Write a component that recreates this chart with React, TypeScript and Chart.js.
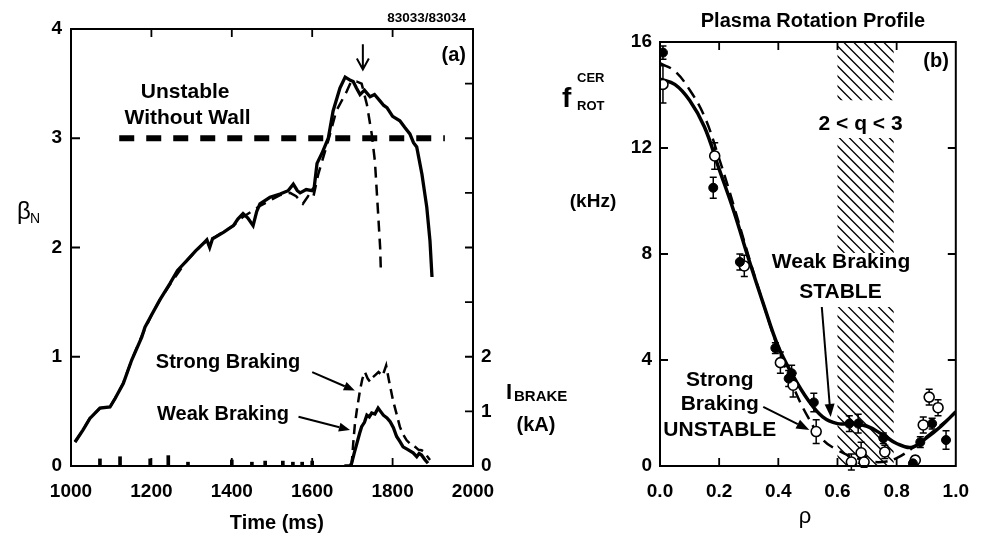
import React, { useEffect, useRef } from 'react';
import { Chart, registerables } from 'chart.js';

Chart.register(...registerables);

const FONT = '"Liberation Sans", Arial, Helvetica, sans-serif';

// ---------------- Panel (a) data ----------------
const timeTicks = [1000, 1200, 1400, 1600, 1800, 2000];
const betaTicks = [0, 1, 2, 3, 4];
const brakeTickLabels = [0, 1, 2];
const brakeInnerTicks = [1, 2, 3, 4, 5, 6, 7];

const weakTime = [1010, 1030, 1047, 1072, 1097, 1110, 1130, 1151, 1176, 1184, 1200, 1221, 1246, 1265, 1288, 1310, 1330, 1338, 1345, 1352, 1380, 1404, 1415, 1428, 1440, 1453, 1462, 1470, 1495, 1520, 1540, 1553, 1563, 1570, 1585, 1600, 1605, 1612, 1624, 1640, 1652, 1669, 1682, 1695, 1702, 1710, 1719, 1730, 1744, 1755, 1769, 1778, 1786, 1800, 1818, 1830, 1843, 1852, 1860, 1873, 1885, 1893, 1898];
const weakBeta = [0.22, 0.33, 0.435, 0.53, 0.54, 0.62, 0.755, 0.97, 1.18, 1.27, 1.38, 1.52, 1.67, 1.79, 1.88, 1.97, 2.04, 2.07, 2.0, 2.08, 2.14, 2.2, 2.26, 2.31, 2.27, 2.2, 2.33, 2.4, 2.46, 2.49, 2.52, 2.58, 2.52, 2.5, 2.53, 2.52, 2.55, 2.77, 2.86, 3.0, 3.25, 3.46, 3.56, 3.53, 3.52, 3.46, 3.4, 3.44, 3.38, 3.4, 3.34, 3.3, 3.28, 3.2, 3.16, 3.1, 3.04, 2.96, 2.92, 2.67, 2.37, 2.06, 1.73];

const strongTime = [1010, 1030, 1047, 1072, 1097, 1110, 1130, 1151, 1176, 1200, 1221, 1246, 1288, 1330, 1360, 1404, 1428, 1470, 1520, 1545, 1560, 1577, 1590, 1602, 1615, 1640, 1660, 1686, 1697, 1710, 1723, 1736, 1748, 1756, 1764, 1769, 1771];
const strongBeta = [0.22, 0.33, 0.44, 0.53, 0.54, 0.62, 0.76, 0.97, 1.19, 1.38, 1.52, 1.66, 1.88, 2.04, 2.1, 2.2, 2.28, 2.38, 2.48, 2.5, 2.47, 2.4, 2.47, 2.45, 2.67, 2.98, 3.25, 3.43, 3.52, 3.52, 3.5, 3.31, 3.04, 2.79, 2.31, 2.0, 1.76];

const wallLimitTime = [1120, 1930];
const wallLimitBeta = [3, 3];

const weakBrakeTime = [1680, 1694, 1698, 1705, 1711, 1718, 1723, 1730, 1736, 1742, 1748, 1756, 1764, 1770, 1777, 1786, 1794, 1802, 1810, 1818, 1826, 1838, 1851, 1860, 1866, 1872, 1880, 1888];
const weakBrakeKA = [0, 0, 0.05, 0.25, 0.41, 0.6, 0.72, 0.8, 0.93, 0.9, 0.97, 0.95, 1.06, 1.0, 0.93, 0.88, 0.81, 0.7, 0.54, 0.45, 0.35, 0.3, 0.24, 0.17, 0.23, 0.2, 0.12, 0.05];

const strongBrakeTime = [1698, 1702, 1706, 1711, 1719, 1725, 1731, 1738, 1744, 1750, 1756, 1765, 1775, 1784, 1790, 1801, 1810, 1818, 1826, 1835, 1845, 1856, 1864, 1872, 1880, 1886, 1893];
const strongBrakeKA = [0, 0.41, 0.75, 1.02, 1.39, 1.6, 1.72, 1.6, 1.54, 1.62, 1.66, 1.72, 1.65, 1.84, 1.6, 1.2, 0.95, 0.72, 0.58, 0.47, 0.4, 0.35, 0.3, 0.29, 0.25, 0.18, 0.11];

const spikeTime = [1072, 1122, 1197, 1242, 1291, 1400, 1450, 1483, 1527, 1552, 1575, 1600];
const spikeKA = [0.13, 0.17, 0.13, 0.19, 0.07, 0.11, 0.07, 0.09, 0.09, 0.07, 0.07, 0.09];

// ---------------- Panel (b) data ----------------
const rhoTicks = [0, 0.2, 0.4, 0.6, 0.8, 1.0];
const fTicks = [0, 4, 8, 12, 16];
const qRegion = [0.6, 0.79];
const hatchBands = [[13.8, 16], [8.04, 12.38], [0, 6.0]];

const fitRho = [0, 0.05, 0.1, 0.15, 0.2, 0.25, 0.3, 0.35, 0.4, 0.45, 0.5, 0.55, 0.6, 0.65, 0.7, 0.75, 0.8, 0.85, 0.9, 0.95, 1.0];
const weakFitF = [14.6, 14.4, 13.8, 12.8, 11.2, 9.6, 7.8, 6.1, 4.5, 3.4, 2.5, 1.85, 1.6, 1.6, 1.5, 1.2, 0.85, 0.7, 1.05, 1.5, 2.05];
const strongFitF = [15.2, 14.9, 14.2, 13.2, 11.6, 9.8, 7.9, 6.1, 4.4, 3.0, 1.85, 1.0, 0.6, 0.35, 0.2, 0.15, 0.3, 0.65, 1.1, 1.55, 2.0];

const weakRho = [0.01, 0.18, 0.27, 0.39, 0.435, 0.445, 0.52, 0.64, 0.67, 0.755, 0.855, 0.88, 0.92, 0.967];
const weakF = [15.6, 10.5, 7.7, 4.45, 3.3, 3.5, 2.4, 1.6, 1.6, 1.05, 0.1, 0.9, 1.6, 0.98];
const weakErr = [0.25, 0.4, 0.3, 0.2, 0.3, 0.3, 0.35, 0.3, 0.35, 0.2, 0.1, 0.2, 0.2, 0.35];

const strongRho = [0.01, 0.185, 0.285, 0.407, 0.45, 0.528, 0.647, 0.68, 0.69, 0.76, 0.863, 0.89, 0.91, 0.94];
const strongF = [14.4, 11.7, 7.55, 3.9, 3.05, 1.3, 0.15, 0.5, 0.15, 0.53, 0.22, 1.55, 2.6, 2.2];
const strongErr = [0.7, 0.5, 0.4, 0.4, 0.45, 0.45, 0.3, 0.4, 0.2, 0.25, 0.15, 0.3, 0.3, 0.3];

// ---------------- helpers ----------------
const xy = (xs: number[], ys: number[]) => xs.map((x, i) => ({ x, y: ys[i] }));

function txt(ctx: CanvasRenderingContext2D, s: string, x: number, y: number, size: number, align: CanvasTextAlign = 'center', weight = 'bold') {
  ctx.font = `${weight} ${size}px ${FONT}`;
  ctx.textAlign = align;
  ctx.textBaseline = 'middle';
  ctx.fillText(s, x, y);
}

function arrow(ctx: CanvasRenderingContext2D, x1: number, y1: number, x2: number, y2: number, head = 11, hw = 4.5, lw = 2) {
  const ang = Math.atan2(y2 - y1, x2 - x1);
  const bx = x2 - head * Math.cos(ang);
  const by = y2 - head * Math.sin(ang);
  ctx.lineWidth = lw;
  ctx.beginPath();
  ctx.moveTo(x1, y1);
  ctx.lineTo(bx, by);
  ctx.stroke();
  ctx.beginPath();
  ctx.moveTo(x2, y2);
  ctx.lineTo(bx + hw * Math.sin(ang), by - hw * Math.cos(ang));
  ctx.lineTo(bx - hw * Math.sin(ang), by + hw * Math.cos(ang));
  ctx.closePath();
  ctx.fill();
}

const tickFont = { family: FONT, size: 19, weight: 'bold' as const };

// ---------------- Panel (a) plugin ----------------
const panelAPlugin = {
  id: 'panelA',
  afterDraw(chart: any) {
    const { ctx, chartArea: a, scales } = chart;
    const X = (v: number) => scales.x.getPixelForValue(v);
    const Y = (v: number) => scales.y.getPixelForValue(v);
    const Y2 = (v: number) => scales.y2.getPixelForValue(v);
    ctx.save();
    ctx.strokeStyle = '#000';
    ctx.fillStyle = '#000';
    ctx.lineWidth = 2;
    ctx.strokeRect(a.left, a.top, a.right - a.left, a.bottom - a.top);
    ctx.lineWidth = 1.8;
    ctx.beginPath();
    timeTicks.slice(1, -1).forEach((t) => {
      const x = X(t);
      ctx.moveTo(x, a.bottom); ctx.lineTo(x, a.bottom - 8);
      ctx.moveTo(x, a.top); ctx.lineTo(x, a.top + 8);
    });
    betaTicks.slice(1, -1).forEach((b) => {
      const y = Y(b);
      ctx.moveTo(a.left, y); ctx.lineTo(a.left + 9, y);
    });
    brakeInnerTicks.forEach((i) => {
      const y = Y2(i);
      ctx.moveTo(a.right, y); ctx.lineTo(a.right - 8, y);
    });
    ctx.stroke();

    // annotations
    txt(ctx, 'Unstable', X(1284), Y(3.42), 21);
    txt(ctx, 'Without Wall', X(1290), Y(3.18), 21);
    txt(ctx, 'Strong Braking', X(1211), Y(0.95), 20, 'left');
    txt(ctx, 'Weak Braking', X(1214), Y(0.475), 20, 'left');
    arrow(ctx, X(1600), Y(0.86), X(1706), Y(0.69));
    arrow(ctx, X(1566), Y(0.45), X(1694), Y(0.33));
    // down arrow marker
    ctx.lineWidth = 2;
    ctx.beginPath();
    const ax = X(1726);
    ctx.moveTo(ax, Y(3.86)); ctx.lineTo(ax, Y(3.63));
    ctx.moveTo(ax - 6, Y(3.73)); ctx.lineTo(ax, Y(3.63)); ctx.lineTo(ax + 6, Y(3.73));
    ctx.stroke();

    txt(ctx, '(a)', a.right - 7, a.top + 26, 20, 'right');
    txt(ctx, '83033/83034', a.right - 7, a.top - 11, 13.5, 'right');

    // axis titles
    txt(ctx, 'β', 17, 212, 24, 'left', 'normal');
    txt(ctx, 'N', 30, 219, 14, 'left', 'normal');
    txt(ctx, 'Time (ms)', X(1512), 523, 20);
    txt(ctx, 'I', 506, 393, 22, 'left');
    txt(ctx, 'BRAKE', 514, 397, 15, 'left');
    txt(ctx, '(kA)', 536, 425, 20);
    ctx.restore();
  },
};

// ---------------- Panel (b) plugins ----------------
const panelBBack = {
  id: 'panelBBack',
  beforeDatasetsDraw(chart: any) {
    const { ctx, chartArea: a, scales } = chart;
    const X = (v: number) => scales.x.getPixelForValue(v);
    const Y = (v: number) => scales.y.getPixelForValue(v);
    ctx.save();
    ctx.strokeStyle = '#000';
    const xl = X(qRegion[0]);
    const xr = X(qRegion[1]);
    const H = a.bottom - a.top;
    hatchBands.forEach(([lo, hi]) => {
      ctx.save();
      ctx.beginPath();
      ctx.rect(xl, Y(hi), xr - xl, Y(lo) - Y(hi));
      ctx.clip();
      ctx.lineWidth = 1.3;
      ctx.beginPath();
      for (let s = -H - 20; s < xr - xl + 20; s += 10) {
        ctx.moveTo(xl + s, a.top);
        ctx.lineTo(xl + s + H, a.bottom);
      }
      ctx.stroke();
      ctx.restore();
    });
    // error bars
    ctx.lineWidth = 1.5;
    const bars = (rs: number[], fs: number[], es: number[]) => {
      ctx.beginPath();
      rs.forEach((r, i) => {
        const x = X(r);
        const y1 = Y(fs[i] + es[i]);
        const y2 = Y(fs[i] - es[i]);
        ctx.moveTo(x, y1); ctx.lineTo(x, y2);
        ctx.moveTo(x - 3.5, y1); ctx.lineTo(x + 3.5, y1);
        ctx.moveTo(x - 3.5, y2); ctx.lineTo(x + 3.5, y2);
      });
      ctx.stroke();
    };
    bars(weakRho, weakF, weakErr);
    bars(strongRho, strongF, strongErr);
    ctx.restore();
  },
};

const panelBFront = {
  id: 'panelBFront',
  afterDraw(chart: any) {
    const { ctx, chartArea: a, scales } = chart;
    const X = (v: number) => scales.x.getPixelForValue(v);
    const Y = (v: number) => scales.y.getPixelForValue(v);
    ctx.save();
    ctx.strokeStyle = '#000';
    ctx.fillStyle = '#000';
    ctx.lineWidth = 2;
    ctx.strokeRect(a.left, a.top, a.right - a.left, a.bottom - a.top);
    ctx.lineWidth = 1.8;
    ctx.beginPath();
    rhoTicks.slice(1, -1).forEach((r) => {
      const x = X(r);
      ctx.moveTo(x, a.bottom); ctx.lineTo(x, a.bottom - 8);
      ctx.moveTo(x, a.top); ctx.lineTo(x, a.top + 8);
    });
    fTicks.slice(1, -1).forEach((f) => {
      const y = Y(f);
      ctx.moveTo(a.left, y); ctx.lineTo(a.left + 8, y);
      ctx.moveTo(a.right, y); ctx.lineTo(a.right - 8, y);
    });
    ctx.stroke();

    txt(ctx, '2 < q < 3', X(0.678), Y(12.9), 21);
    txt(ctx, 'Weak Braking', X(0.612), Y(7.7), 21);
    txt(ctx, 'STABLE', X(0.61), Y(6.57), 21);
    arrow(ctx, X(0.547), Y(6.0), X(0.577), Y(1.85), 13, 5, 2);
    txt(ctx, 'Strong', X(0.202), Y(3.25), 21);
    txt(ctx, 'Braking', X(0.202), Y(2.34), 21);
    txt(ctx, 'UNSTABLE', X(0.202), Y(1.36), 21);
    arrow(ctx, X(0.349), Y(2.23), X(0.505), Y(1.36), 13, 5, 2);

    txt(ctx, '(b)', a.right - 7, a.top + 19, 20, 'right');
    txt(ctx, 'Plasma Rotation Profile', 333, 21, 20);
    txt(ctx, 'f', 82, 99, 28, 'left');
    txt(ctx, 'CER', 97, 78, 13, 'left');
    txt(ctx, 'ROT', 97, 106, 13, 'left');
    txt(ctx, '(kHz)', 113, 202, 19);
    txt(ctx, 'ρ', X(0.49), 517, 22, 'center', 'normal');
    ctx.restore();
  },
};

export default function App() {
  const refA = useRef<HTMLCanvasElement>(null);
  const refB = useRef<HTMLCanvasElement>(null);

  useEffect(() => {
    document.body.style.margin = '0';
    const black = '#000';
    const chartA = new Chart(refA.current as HTMLCanvasElement, {
      type: 'line',
      data: {
        datasets: [
          { data: xy(weakTime, weakBeta), borderColor: black, borderWidth: 3.3, pointRadius: 0, yAxisID: 'y', tension: 0 },
          { data: xy(strongTime, strongBeta), borderColor: black, borderWidth: 2.5, borderDash: [11, 7], pointRadius: 0, yAxisID: 'y', tension: 0 },
          { data: xy(wallLimitTime, wallLimitBeta), borderColor: black, borderWidth: 6, borderDash: [15, 12], borderCapStyle: 'butt', pointRadius: 0, yAxisID: 'y' },
          { data: xy(weakBrakeTime, weakBrakeKA), borderColor: black, borderWidth: 3.3, pointRadius: 0, yAxisID: 'y2', tension: 0 },
          { data: xy(strongBrakeTime, strongBrakeKA), borderColor: black, borderWidth: 2.5, borderDash: [10, 6], pointRadius: 0, yAxisID: 'y2', tension: 0 },
          { type: 'bar', data: xy(spikeTime, spikeKA), backgroundColor: black, barThickness: 3, yAxisID: 'y2' } as any,
        ],
      },
      options: {
        responsive: false,
        animation: false,
        devicePixelRatio: 1,
        layout: { padding: { top: 29, left: 0, right: 0, bottom: 0 } },
        plugins: { legend: { display: false }, tooltip: { enabled: false } },
        scales: {
          x: {
            type: 'linear', min: 1000, max: 2000, offset: false,
            afterBuildTicks: (s: any) => { s.ticks = timeTicks.map((v) => ({ value: v })); },
            ticks: { color: black, font: tickFont, padding: 14, maxRotation: 0, autoSkip: false, callback: (v: any) => String(v) },
            grid: { display: false, drawTicks: false },
            border: { display: false },
            afterFit: (s: any) => { s.height = 70; },
          },
          y: {
            type: 'linear', position: 'left', min: 0, max: 4,
            afterBuildTicks: (s: any) => { s.ticks = betaTicks.map((v) => ({ value: v })); },
            ticks: { color: black, font: tickFont, padding: 9, callback: (v: any) => String(v) },
            grid: { display: false, drawTicks: false },
            border: { display: false },
            afterFit: (s: any) => { s.width = 71; },
          },
          y2: {
            type: 'linear', position: 'right', min: 0, max: 8,
            afterBuildTicks: (s: any) => { s.ticks = brakeTickLabels.map((v) => ({ value: v })); },
            ticks: { color: black, font: tickFont, padding: 8, callback: (v: any) => String(v) },
            grid: { display: false, drawTicks: false },
            border: { display: false },
            afterFit: (s: any) => { s.width = 127; },
          },
        },
      } as any,
      plugins: [panelAPlugin],
    });

    const chartB = new Chart(refB.current as HTMLCanvasElement, {
      type: 'line',
      data: {
        datasets: [
          { data: xy(weakRho, weakF), showLine: false, pointRadius: 4.5, pointBackgroundColor: black, pointBorderColor: black, pointBorderWidth: 1, order: 0 },
          { data: xy(strongRho, strongF), showLine: false, pointRadius: 5, pointBackgroundColor: '#fff', pointBorderColor: black, pointBorderWidth: 1.6, order: 0 },
          { data: xy(fitRho, weakFitF), borderColor: black, borderWidth: 3.5, pointRadius: 0, tension: 0.4, order: 1 },
          { data: xy(fitRho, strongFitF), borderColor: black, borderWidth: 2.5, borderDash: [12, 7], pointRadius: 0, tension: 0.4, order: 1 },
        ],
      },
      options: {
        responsive: false,
        animation: false,
        devicePixelRatio: 1,
        layout: { padding: { top: 42, left: 0, right: 16, bottom: 0 } },
        plugins: { legend: { display: false }, tooltip: { enabled: false } },
        scales: {
          x: {
            type: 'linear', min: 0, max: 1, offset: false,
            afterBuildTicks: (s: any) => { s.ticks = rhoTicks.map((v) => ({ value: v })); },
            ticks: { color: black, font: tickFont, padding: 14, maxRotation: 0, autoSkip: false, callback: (v: any) => Number(v).toFixed(1) },
            grid: { display: false, drawTicks: false },
            border: { display: false },
            afterFit: (s: any) => { s.height = 70; },
          },
          y: {
            type: 'linear', position: 'left', min: 0, max: 16,
            afterBuildTicks: (s: any) => { s.ticks = fTicks.map((v) => ({ value: v })); },
            ticks: { color: black, font: tickFont, padding: 8, callback: (v: any) => String(v) },
            grid: { display: false, drawTicks: false },
            border: { display: false },
            afterFit: (s: any) => { s.width = 180; },
          },
        },
      } as any,
      plugins: [panelBBack, panelBFront],
    });

    return () => { chartA.destroy(); chartB.destroy(); };
  }, []);

  return (
    <div style={{ position: 'relative', width: 983, height: 536, background: '#fff', overflow: 'hidden' }}>
      <canvas ref={refA} width={600} height={536} style={{ position: 'absolute', left: 0, top: 0 }} />
      <canvas ref={refB} width={503} height={536} style={{ position: 'absolute', left: 480, top: 0 }} />
    </div>
  );
}
